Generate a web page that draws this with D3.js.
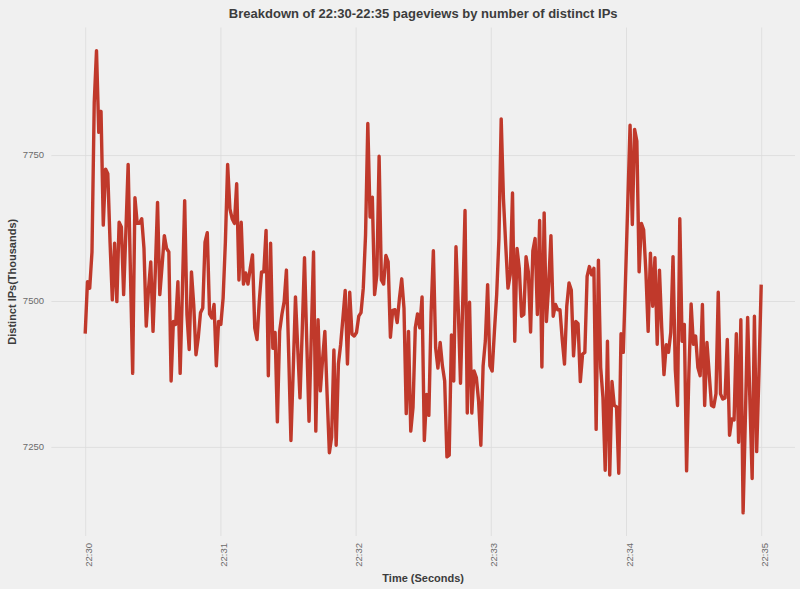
<!DOCTYPE html>
<html>
<head>
<meta charset="utf-8">
<script src="https://cdn.jsdelivr.net/npm/d3@7"></script>
<style>
  html, body { margin: 0; padding: 0; background: #F0F0F0; }
  svg { display: block; }
  .lbl { font-family: "Liberation Sans", Arial, Helvetica, sans-serif; }
</style>
</head>
<body>
<svg id="chart" width="800" height="589"></svg>
<script>
// ---- data ----
const title = "Breakdown of 22:30-22:35 pageviews by number of distinct IPs";
const xTitle = "Time (Seconds)";
const yTitle = "Distinct IPs(Thousands)";
const startTime = new Date(2000, 0, 1, 22, 30, 0);
const endTime = new Date(2000, 0, 1, 22, 35, 0);
const yTicks = [7250, 7500, 7750];
const distinctIPs = [
  7444,7533,7522,7584,7840,7929,7789,7825,7630,7726,
  7718,7600,7502,7599,7499,7635,7627,7511,7620,7734,
  7550,7376,7677,7633,7633,7641,7590,7457,7520,7567,
  7448,7550,7669,7511,7560,7612,7590,7584,7363,7465,
  7460,7533,7376,7520,7672,7477,7417,7550,7494,7408,
  7437,7480,7488,7601,7617,7478,7471,7494,7389,7465,
  7460,7505,7601,7734,7658,7641,7633,7701,7536,7635,
  7529,7548,7529,7556,7579,7454,7434,7500,7550,7550,
  7621,7372,7599,7419,7446,7293,7448,7477,7499,7553,
  7410,7261,7380,7507,7420,7334,7450,7574,7430,7294,
  7440,7584,7277,7468,7346,7400,7448,7340,7240,7267,
  7416,7253,7392,7426,7471,7518,7392,7515,7443,7440,
  7446,7474,7480,7522,7613,7804,7644,7678,7511,7545,
  7748,7536,7529,7578,7567,7438,7484,7485,7463,7505,
  7538,7488,7307,7448,7277,7318,7454,7478,7454,7507,
  7261,7340,7304,7480,7586,7420,7385,7429,7389,7363,
  7233,7236,7442,7363,7593,7488,7359,7500,7655,7308,
  7498,7308,7380,7369,7329,7253,7389,7432,7528,7389,
  7380,7448,7511,7607,7812,7675,7596,7522,7545,7685,
  7431,7590,7556,7474,7477,7576,7550,7447,7586,7607,
  7477,7638,7387,7651,7465,7528,7612,7474,7494,7485,
  7485,7434,7392,7491,7531,7519,7406,7465,7461,7362,
  7409,7412,7542,7559,7545,7556,7280,7570,7386,7335,
  7210,7431,7202,7362,7321,7319,7205,7444,7412,7539,
  7669,7801,7631,7794,7774,7550,7633,7622,7550,7448,
  7582,7491,7574,7426,7553,7454,7374,7425,7412,7446,
  7576,7383,7321,7641,7431,7460,7209,7375,7495,7426,
  7440,7386,7372,7494,7321,7429,7375,7321,7319,7341,
  7515,7341,7332,7334,7434,7270,7298,7296,7444,7258,
  7468,7137,7300,7472,7330,7196,7474,7242,7375,7528
];

// ---- layout ----
const svg = d3.select("#chart");
const panel = { left: 51.4, right: 795, top: 27.5, bottom: 536 };

const spanMs = endTime - startTime;
const stepMs = spanMs / (distinctIPs.length - 1);
const series = distinctIPs.map((v, i) => ({ t: new Date(+startTime + i * stepMs), v }));

const pad = spanMs * 0.05;
const x = d3.scaleTime()
  .domain([new Date(+startTime - pad), new Date(+endTime + pad)])
  .range([panel.left, panel.right]);

const yMin = d3.min(distinctIPs), yMax = d3.max(distinctIPs);
const yPad = (yMax - yMin) * 0.05;
const y = d3.scaleLinear()
  .domain([yMin - yPad, yMax + yPad])
  .range([panel.bottom, panel.top]);

// grid
const gridColor = "#DADADA";
const xTickVals = d3.timeMinute.every(1).range(startTime, new Date(+endTime + 1));
svg.append("g")
  .attr("transform", `translate(0,${panel.bottom})`)
  .call(d3.axisBottom(x).tickValues(xTickVals).tickSize(-(panel.bottom - panel.top)).tickFormat(""))
  .call(g => g.select(".domain").remove())
  .call(g => g.selectAll(".tick line").attr("stroke", gridColor).attr("stroke-width", 0.8));

svg.append("g")
  .attr("transform", `translate(${panel.left},0)`)
  .call(d3.axisLeft(y).tickValues(yTicks).tickSize(-(panel.right - panel.left)).tickFormat(""))
  .call(g => g.select(".domain").remove())
  .call(g => g.selectAll(".tick line").attr("stroke", gridColor).attr("stroke-width", 0.8));

// tick labels
const fmt = d3.timeFormat("%H:%M");
svg.append("g").selectAll("text")
  .data(xTickVals)
  .join("text")
  .attr("class", "lbl")
  .attr("transform", d => `translate(${x(d) + 6.5},${panel.bottom + 7}) rotate(-90)`)
  .attr("text-anchor", "end")
  .attr("font-size", 9.5)
  .attr("fill", "#6B6B6B")
  .text(d => fmt(d));

svg.append("g").selectAll("text")
  .data(yTicks)
  .join("text")
  .attr("class", "lbl")
  .attr("x", 44)
  .attr("y", d => y(d) + 3.4)
  .attr("text-anchor", "end")
  .attr("font-size", 9.5)
  .attr("fill", "#6B6B6B")
  .text(d => d);

// line
const line = d3.line().x(d => x(d.t)).y(d => y(d.v));
svg.append("path")
  .datum(series)
  .attr("d", line)
  .attr("fill", "none")
  .attr("stroke", "#C0392B")
  .attr("stroke-width", 3.4)
  .attr("stroke-linejoin", "round")
  .attr("stroke-linecap", "butt");

// titles
const cx = (panel.left + panel.right) / 2;
svg.append("text")
  .attr("class", "lbl")
  .attr("x", cx).attr("y", 18)
  .attr("text-anchor", "middle")
  .attr("font-size", 13).attr("font-weight", "bold")
  .attr("fill", "#3C3C3C")
  .text(title);

svg.append("text")
  .attr("class", "lbl")
  .attr("x", cx).attr("y", 582)
  .attr("text-anchor", "middle")
  .attr("font-size", 11).attr("font-weight", "bold")
  .attr("fill", "#3C3C3C")
  .text(xTitle);

svg.append("text")
  .attr("class", "lbl")
  .attr("transform", `translate(16,${(panel.top + panel.bottom) / 2}) rotate(-90)`)
  .attr("text-anchor", "middle")
  .attr("font-size", 11).attr("font-weight", "bold")
  .attr("fill", "#3C3C3C")
  .text(yTitle);
</script>
</body>
</html>
